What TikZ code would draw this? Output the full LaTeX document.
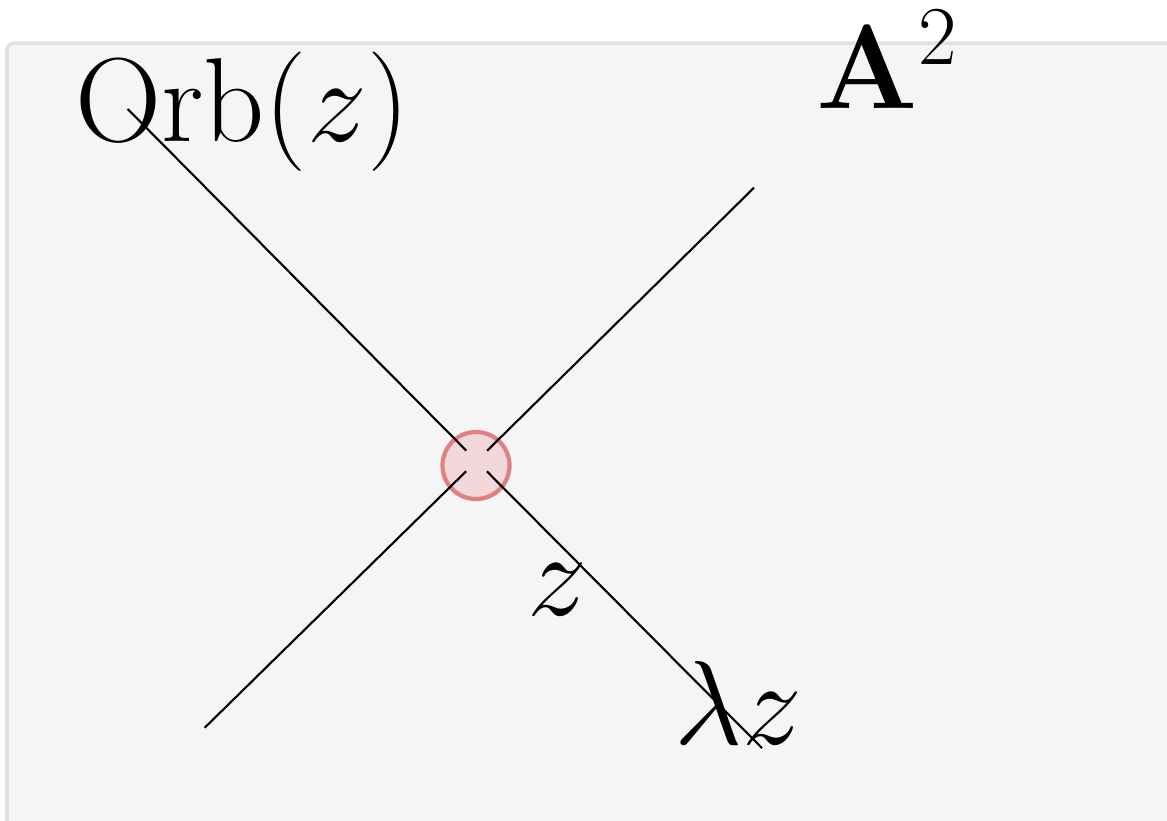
\documentclass[tikz,border=0pt]{standalone}
\usepackage{fix-cm}
\usepackage{amsmath}
\definecolor{panelfill}{RGB}{245,245,245}
\definecolor{panelline}{RGB}{225,225,225}
\definecolor{orbitfill}{RGB}{242,216,218}
\definecolor{orbitline}{RGB}{225,128,128}

\begin{document}
\begin{tikzpicture}[x=0.01cm, y=-0.01cm,
        lbl/.style={font=\fontsize{34}{40}\selectfont, inner sep=0pt},
        orbitline/.style={draw=black, line width=0.6pt}]
        \useasboundingbox (0,0) rectangle (1167,820);
        % Draw background
        \draw[fill=panelfill, draw=panelline, line width=1pt, rounded corners=2pt] (7,43) rectangle (1200,860);

        % Draw nodes
        \node[circle, draw=orbitline, fill=orbitfill, line width=1.2pt, minimum size=0.67cm, inner sep=0pt] (orbit) at (476,465.5) {};
        \node[circle, minimum size=0.28cm, inner sep=0pt] (hub) at (476.6,461) {};
        \coordinate (orbend) at (127.7,109);
        \coordinate (lamend) at (762,748);
        \coordinate (lowend) at (204.7,727.7);
        \coordinate (upend) at (754,187.7);

        % Draw connections
        \draw[orbitline] (orbend) -- (hub);
        \draw[orbitline] (hub) -- (lamend);
        \draw[orbitline] (lowend) -- (hub);
        \draw[orbitline] (hub) -- (upend);

        % Labels
        \node[lbl, anchor=base west] (orblabel) at (75,141) {$\mathrm{Orb}(z)$};
        \node[lbl, anchor=base] (zlabel) at (557,615) {$z$};
        \node[lbl, anchor=base] (lamlabel) at (738,744) {$\lambda z$};
        \node[lbl, anchor=base west] (spacelabel) at (816,108) {$\mathbf{A}^2$};
    \end{tikzpicture}
\end{document}
